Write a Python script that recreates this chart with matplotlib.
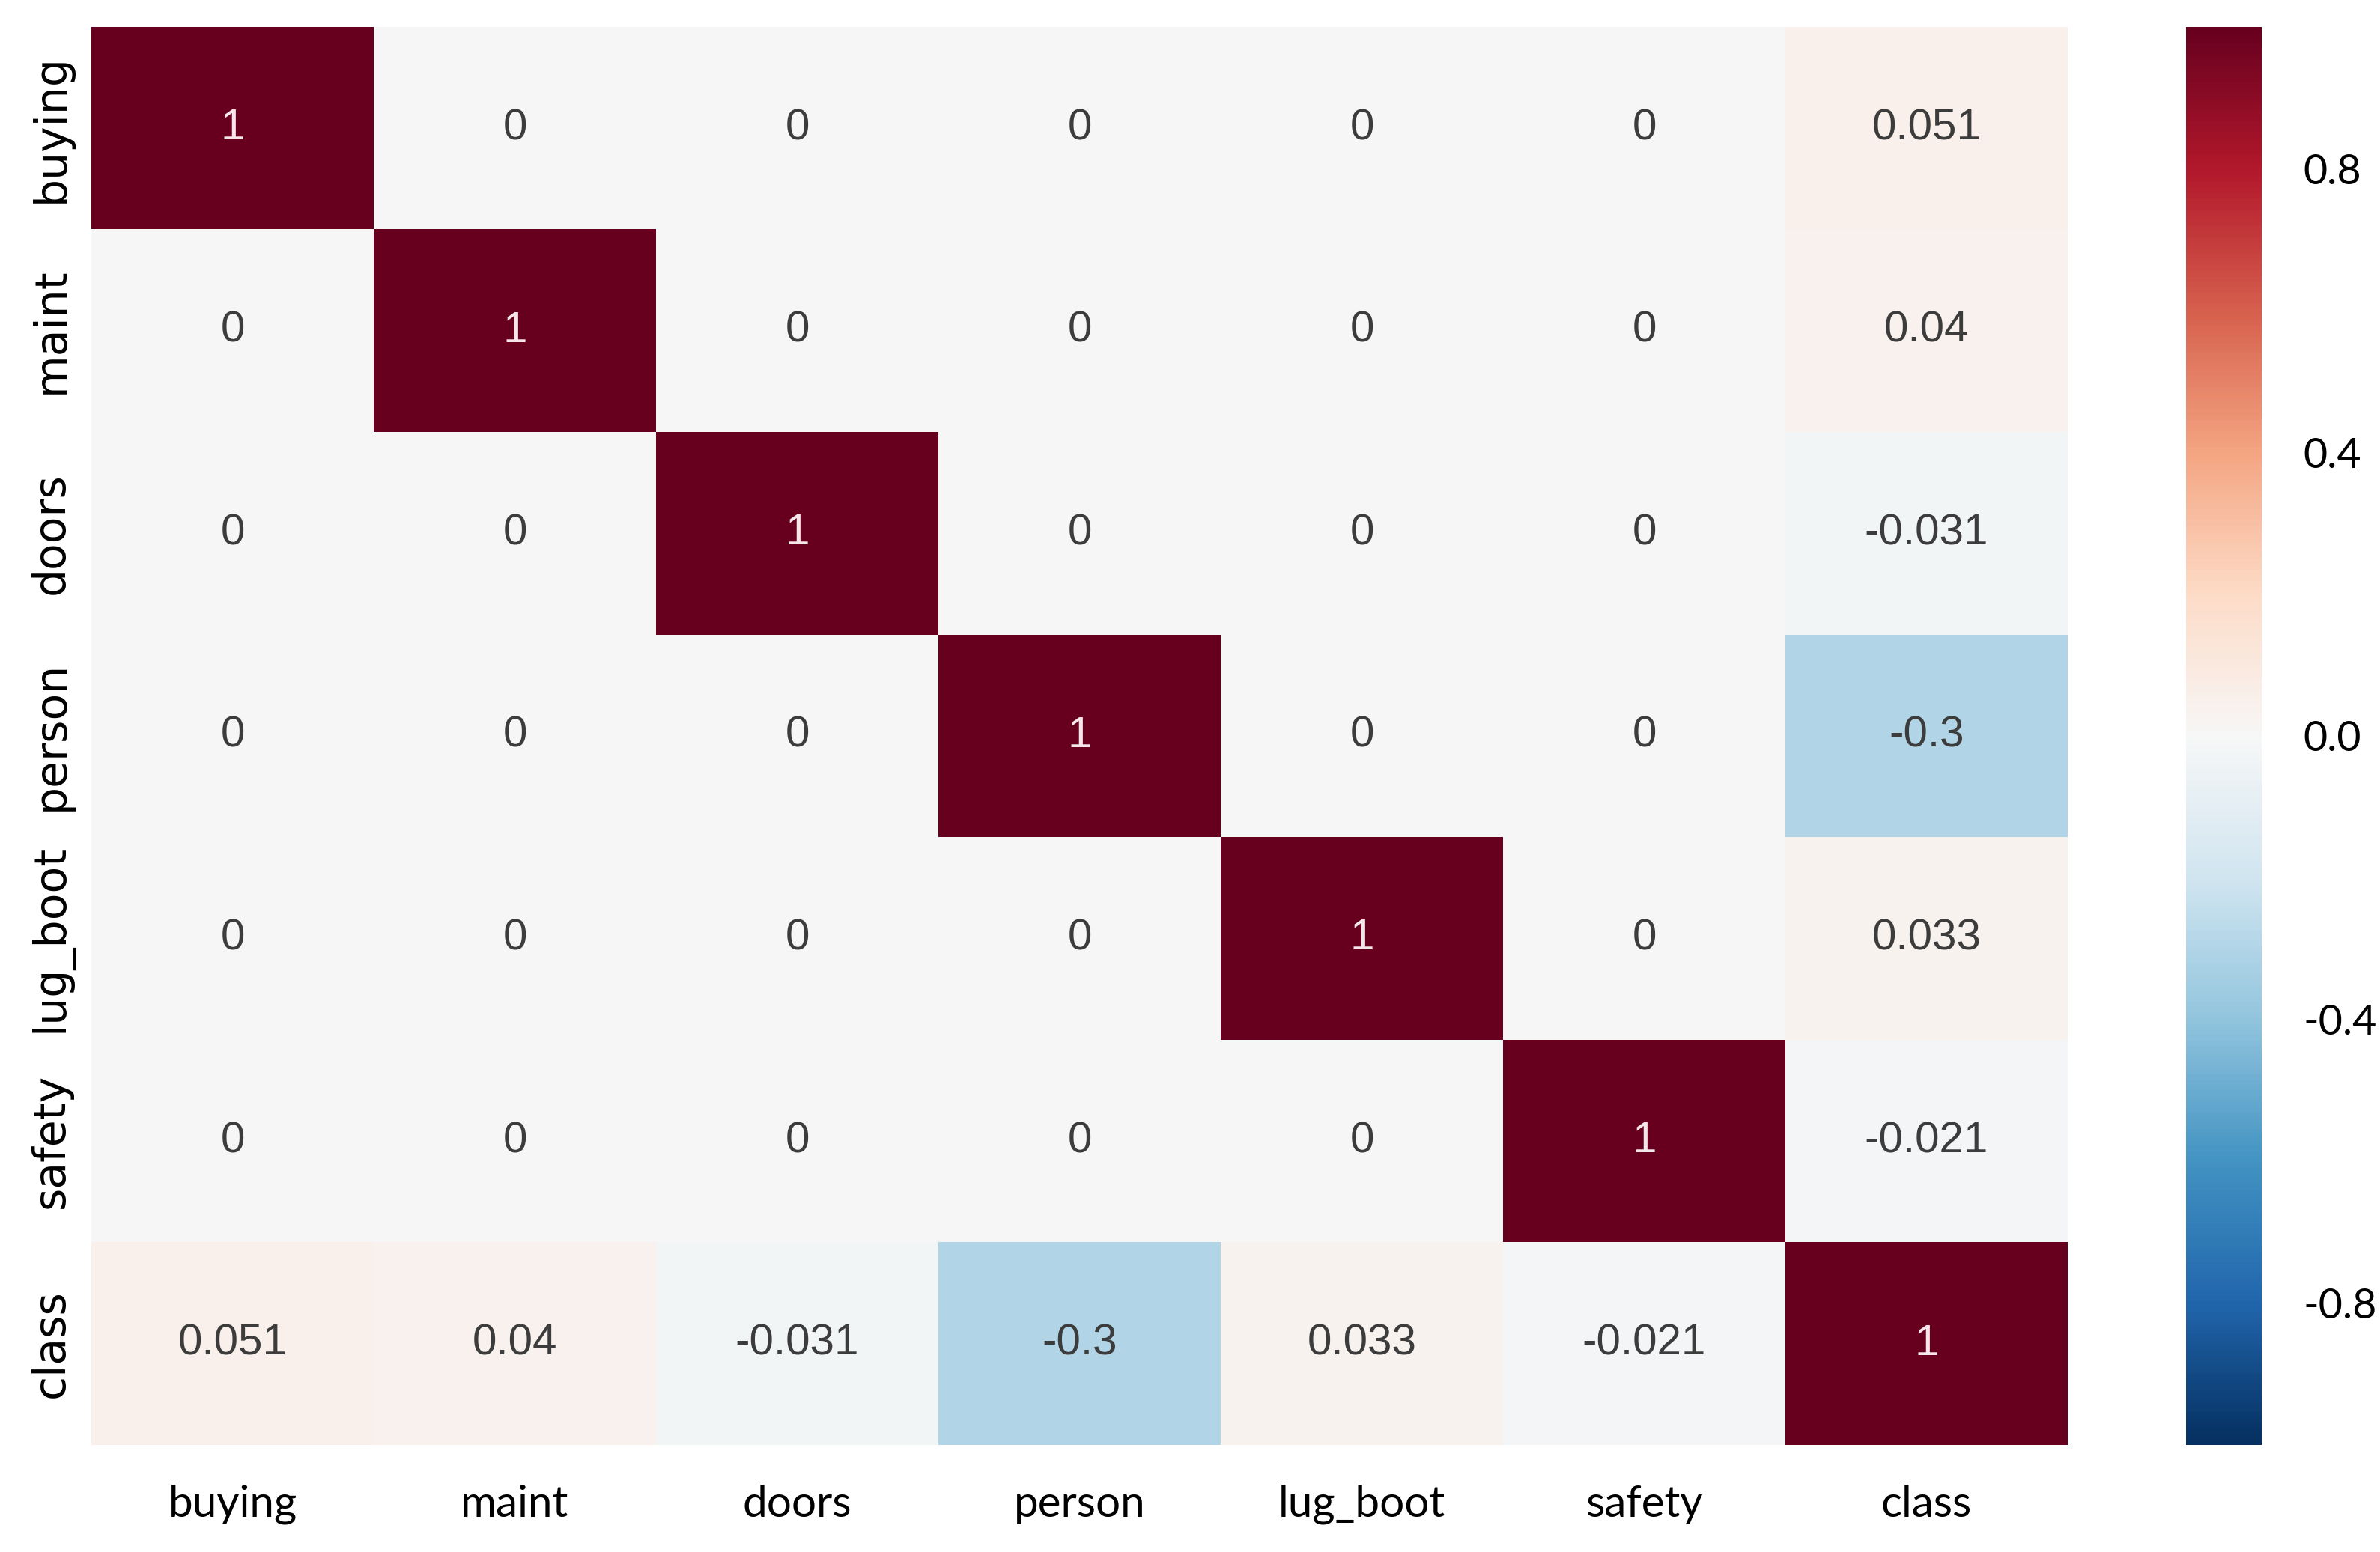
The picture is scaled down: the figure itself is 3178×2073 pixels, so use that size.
import matplotlib
matplotlib.use('Agg')
import matplotlib.pyplot as plt
import numpy as np

features = ['buying', 'maint', 'doors', 'person', 'lug_boot', 'safety', 'class']
class_corr = [0.051, 0.04, -0.031, -0.3, 0.033, -0.021]
cbar_ticks = [-0.8, -0.4, 0.0, 0.4, 0.8]

n = len(features)
corr = np.eye(n)
corr[:-1, -1] = class_corr
corr[-1, :-1] = class_corr

fig = plt.figure(figsize=(15.89, 10.365), dpi=200)
ax = fig.add_axes([0.0384, 0.069, 0.8304, 0.9137])
cax = fig.add_axes([0.9185, 0.069, 0.0318, 0.9137])

mesh = ax.pcolormesh(np.arange(n + 1), np.arange(n + 1), corr,
                     cmap='RdBu_r', vmin=-1, vmax=1)
ax.set_xlim(0, n)
ax.set_ylim(n, 0)

# cell annotations, light text on the dark diagonal
for i in range(n):
    for j in range(n):
        v = corr[i, j]
        txt = format(v, '.2g')
        if v == 0:
            txt = '0'
        color = '#f4e6ea' if abs(v) > 0.6 else '#3c3c3c'
        ax.text(j + 0.5, i + 0.5, txt, ha='center', va='center',
                fontsize=21, color=color, family='Liberation Sans')

ax.set_xticks(np.arange(n) + 0.5)
ax.set_yticks(np.arange(n) + 0.5)
ax.set_xticklabels(features, family='Lato', fontsize=21)
ax.set_yticklabels(features, family='DejaVu Sans', fontsize=21,
                   rotation=90, va='center')
ax.tick_params(axis='x', length=0, pad=19)
ax.tick_params(axis='y', length=0, pad=9)
for s in ax.spines.values():
    s.set_visible(False)

cb = fig.colorbar(mesh, cax=cax, ticks=cbar_ticks)
cb.outline.set_visible(False)
cb.ax.tick_params(length=0, pad=20)
cb.ax.set_yticklabels([format(t, '.1f') for t in cbar_ticks],
                      family='Lato', fontsize=20)

plt.savefig('out.png', dpi=200)
